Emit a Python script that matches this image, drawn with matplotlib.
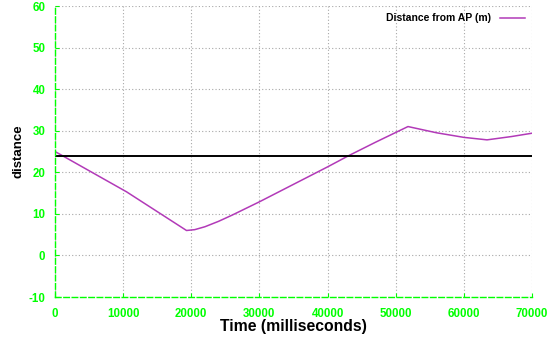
import numpy as np
import matplotlib
matplotlib.use("Agg")
import matplotlib.pyplot as plt

# time (ms) and distance from AP (m)
time_ms = [0, 10500, 19300, 20500, 22000, 24000, 26000, 30000, 35000, 40000,
           43100, 47000, 51800, 56000, 60000, 63400, 67000, 70000]
distance = [25.0, 15.3, 6.0, 6.2, 6.9, 8.2, 9.7, 12.9, 17.1, 21.3,
            24.0, 27.2, 31.0, 29.5, 28.4, 27.8, 28.6, 29.4]
threshold = 24

xticks = [0, 10000, 20000, 30000, 40000, 50000, 60000, 70000]
yticks = [-10, 0, 10, 20, 30, 40, 50, 60]

GREEN = "#00ff00"
FONT = "Liberation Sans"

fig = plt.figure(figsize=(5.52, 3.39), dpi=100)
ax = fig.add_axes([55 / 552, 42 / 339, 477 / 552, 291 / 339])

ax.plot(time_ms, distance, color="#b23ab8", linewidth=1.1, label="Distance from AP (m)")
ax.axhline(threshold, color="black", linewidth=1.4)

ax.set_xlim(0, 70000)
ax.set_ylim(-10, 60)
ax.set_xticks(xticks)
ax.set_yticks(yticks)
ax.set_xticklabels([str(t) for t in xticks], color=GREEN, fontweight="bold", family=FONT, fontsize=8.3)
ax.set_yticklabels([str(t) for t in yticks], color=GREEN, fontweight="bold", family=FONT, fontsize=8.3)
ax.tick_params(direction="in", length=3, color=GREEN)
ax.tick_params(axis="x", pad=8)
ax.tick_params(axis="y", pad=7)

ax.grid(True, color="#a8a8a8", linestyle=(0, (1, 2)), linewidth=0.8)
ax.set_axisbelow(True)

for side in ["top", "right"]:
    ax.spines[side].set_visible(False)
for side in ["left", "bottom"]:
    ax.spines[side].set_color(GREEN)
    ax.spines[side].set_linestyle((0, (4, 2)))
    ax.spines[side].set_linewidth(1.0)

ax.set_xlabel("Time (milliseconds)", fontweight="bold", family=FONT, fontsize=11.3, labelpad=-1)
ax.set_ylabel("distance", fontweight="bold", family=FONT, fontsize=9.5, labelpad=3)

leg = ax.legend(loc="upper right", frameon=False, markerfirst=False,
                prop={"family": FONT, "size": 7.5, "weight": "bold"},
                handlelength=2.4, borderaxespad=0.3)

fig.savefig("out.png", dpi=100)
